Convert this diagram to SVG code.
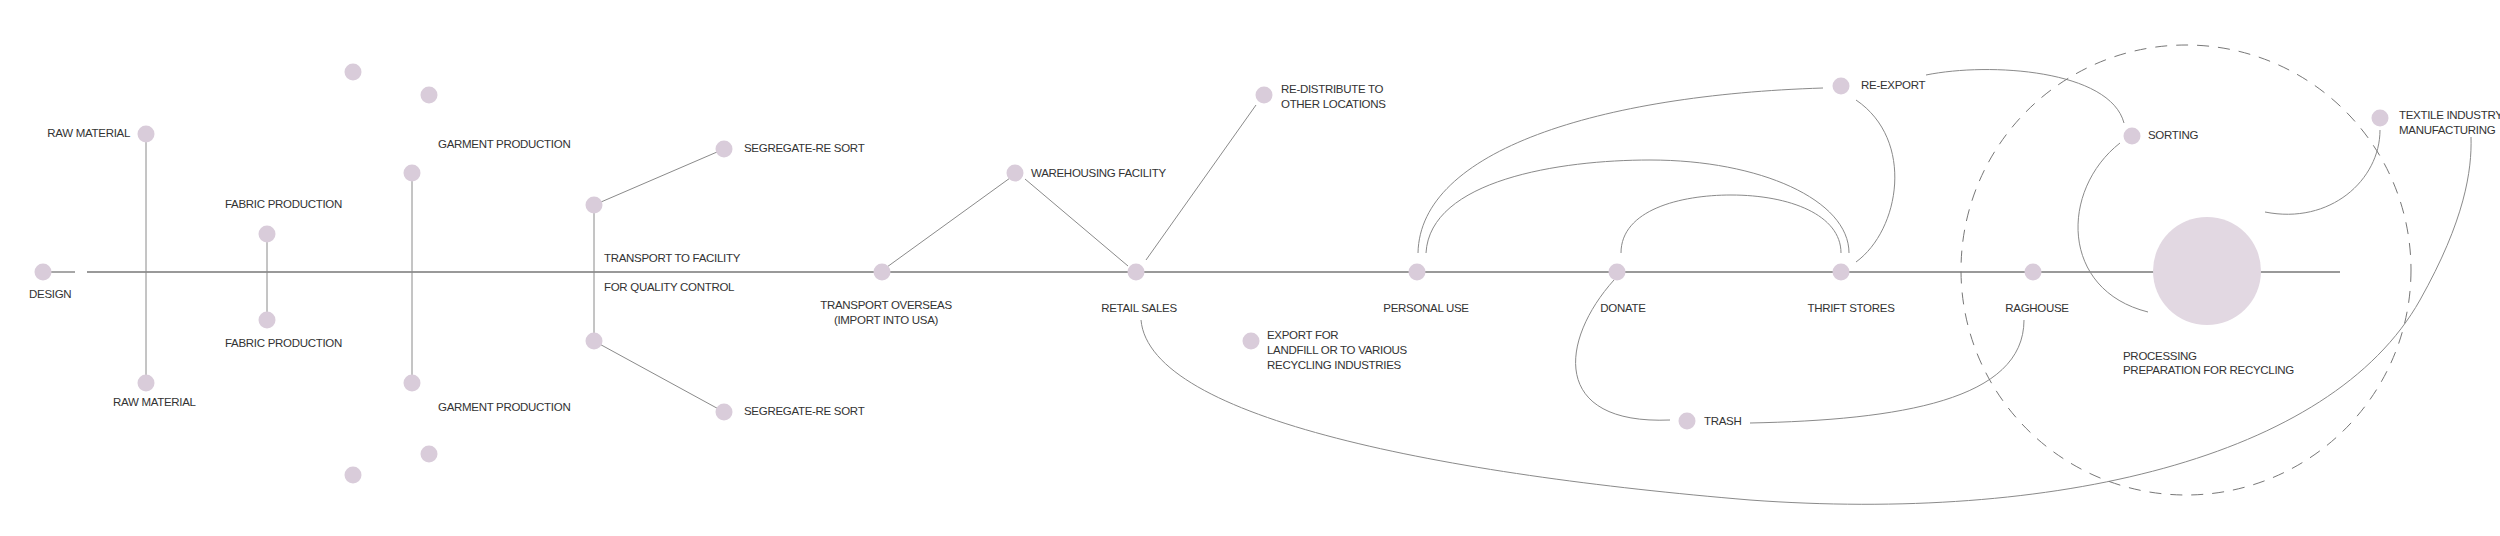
<svg xmlns="http://www.w3.org/2000/svg" width="2500" height="536" viewBox="0 0 2500 536">
<style>
.n{fill:#d9ccda}
.t{font-family:"Liberation Sans",Arial,sans-serif;font-size:11.5px;fill:#333;letter-spacing:-0.3px}
.m{text-anchor:middle}
.c{fill:none;stroke:#8a8a8a;stroke-width:1}
</style>
<rect width="2500" height="536" fill="#fff"/>
<g id="connectors">
<line x1="35" y1="272" x2="75" y2="272" stroke="#8a8a8a" stroke-width="1.5"/>
<line x1="87" y1="272" x2="2340" y2="272" stroke="#999" stroke-width="1.8"/>
<path class="c" d="M146,134V383M267,234V320M412,173V383M594,205V341M594,205L724,149M594,341L724,412"/>
<path class="c" d="M887,267L1010,178M1025,179L1128,266M1146,260L1256,105"/>
<path class="c" d="M1141,320C1150,420 1450,475 1750,500C2050,522 2330,460 2420,300C2465,220 2472,170 2471,137"/>
<path class="c" d="M1418,253C1420,150 1600,95 1823,88"/>
<path class="c" d="M1426,253C1430,180 1560,160 1650,160C1760,160 1849,200 1849,253"/>
<path class="c" d="M1621,253C1621,210 1680,195 1731,195C1790,195 1841,215 1841,253"/>
<path class="c" d="M1856,262C1900,230 1915,140 1856,100"/>
<path class="c" d="M1926,75C1990,62 2110,70 2124,123"/>
<path class="c" d="M2120,143C2060,190 2060,290 2148,312"/>
<path class="c" d="M2380,130C2380,180 2330,225 2265,212"/>
<path class="c" d="M1614,280C1560,340 1550,425 1670,420"/>
<path class="c" d="M1750,423C1900,420 2024,400 2024,320"/>
<circle cx="2186" cy="270" r="225" fill="none" stroke="#777" stroke-width="1" stroke-dasharray="12,9"/>
</g>
<g id="processing"><circle cx="2207" cy="271" r="54" fill="#e2d8e2"/><text class="t" x="2123" y="360">PROCESSING</text><text class="t" x="2123" y="374">PREPARATION FOR RECYCLING</text></g>
<g id="design"><circle class="n" cx="43" cy="272" r="8.5"/><text class="t" x="29" y="298">DESIGN</text></g>
<g id="raw1"><circle class="n" cx="146" cy="134" r="8.5"/><text class="t" x="130" y="137" text-anchor="end">RAW MATERIAL</text></g>
<g id="raw2"><circle class="n" cx="146" cy="383" r="8.5"/><text class="t" x="113" y="406">RAW MATERIAL</text></g>
<g id="fabric1"><circle class="n" cx="267" cy="234" r="8.5"/><text class="t" x="225" y="208">FABRIC PRODUCTION</text></g>
<g id="fabric2"><circle class="n" cx="267" cy="320" r="8.5"/><text class="t" x="225" y="347">FABRIC PRODUCTION</text></g>
<g id="garment1"><circle class="n" cx="412" cy="173" r="8.5"/><text class="t" x="438" y="148">GARMENT PRODUCTION</text></g>
<g id="garment2"><circle class="n" cx="412" cy="383" r="8.5"/><text class="t" x="438" y="411">GARMENT PRODUCTION</text></g>
<g id="dots"><circle class="n" cx="353" cy="72" r="8.5"/><circle class="n" cx="429" cy="95" r="8.5"/><circle class="n" cx="429" cy="454" r="8.5"/><circle class="n" cx="353" cy="475" r="8.5"/></g>
<g id="transport"><circle class="n" cx="594" cy="205" r="8.5"/><circle class="n" cx="594" cy="341" r="8.5"/><text class="t" x="604" y="262">TRANSPORT TO FACILITY</text><text class="t" x="604" y="291">FOR QUALITY CONTROL</text></g>
<g id="seg1"><circle class="n" cx="724" cy="149" r="8.5"/><text class="t" x="744" y="152">SEGREGATE-RE SORT</text></g>
<g id="seg2"><circle class="n" cx="724" cy="412" r="8.5"/><text class="t" x="744" y="415">SEGREGATE-RE SORT</text></g>
<g id="overseas"><circle class="n" cx="882" cy="272" r="8.5"/><text class="t m" x="886" y="309">TRANSPORT OVERSEAS</text><text class="t m" x="886" y="324">(IMPORT INTO USA)</text></g>
<g id="warehouse"><circle class="n" cx="1015" cy="173" r="8.5"/><text class="t" x="1031" y="177">WAREHOUSING FACILITY</text></g>
<g id="retail"><circle class="n" cx="1136" cy="272" r="8.5"/><text class="t m" x="1139" y="312">RETAIL SALES</text></g>
<g id="redistribute"><circle class="n" cx="1264" cy="95" r="8.5"/><text class="t" x="1281" y="93">RE-DISTRIBUTE TO</text><text class="t" x="1281" y="108">OTHER LOCATIONS</text></g>
<g id="export"><circle class="n" cx="1251" cy="341" r="8.5"/><text class="t" x="1267" y="339">EXPORT FOR</text><text class="t" x="1267" y="354">LANDFILL OR TO VARIOUS</text><text class="t" x="1267" y="369">RECYCLING INDUSTRIES</text></g>
<g id="personal"><circle class="n" cx="1417" cy="272" r="8.5"/><text class="t m" x="1426" y="312">PERSONAL USE</text></g>
<g id="donate"><circle class="n" cx="1617" cy="272" r="8.5"/><text class="t m" x="1623" y="312">DONATE</text></g>
<g id="trash"><circle class="n" cx="1687" cy="421" r="8.5"/><text class="t" x="1704" y="425">TRASH</text></g>
<g id="thrift"><circle class="n" cx="1841" cy="272" r="8.5"/><text class="t m" x="1851" y="312">THRIFT STORES</text></g>
<g id="reexport"><circle class="n" cx="1841" cy="86" r="8.5"/><text class="t" x="1861" y="89">RE-EXPORT</text></g>
<g id="raghouse"><circle class="n" cx="2033" cy="272" r="8.5"/><text class="t m" x="2037" y="312">RAGHOUSE</text></g>
<g id="sorting"><circle class="n" cx="2132" cy="136" r="8.5"/><text class="t" x="2148" y="139">SORTING</text></g>
<g id="textile"><circle class="n" cx="2380" cy="118" r="8.5"/><text class="t" x="2399" y="119">TEXTILE INDUSTRY/</text><text class="t" x="2399" y="134">MANUFACTURING</text></g>
</svg>
